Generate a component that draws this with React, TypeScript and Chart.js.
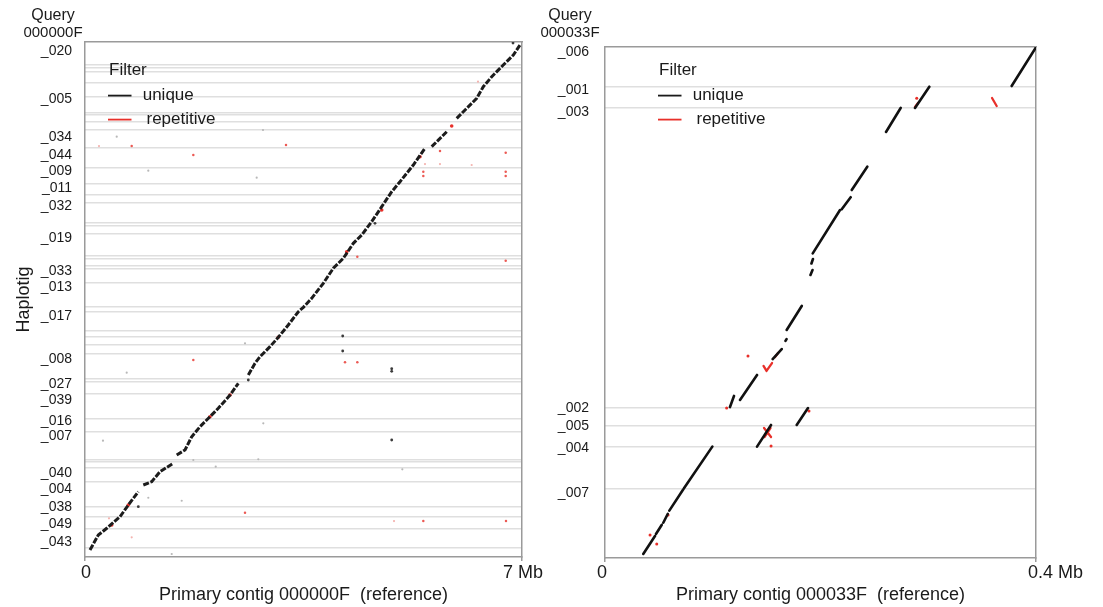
import React, { useEffect, useRef } from "react";
import { Chart, registerables } from "chart.js";

Chart.register(...registerables);

const FONT = "'Liberation Sans', Arial, Helvetica, sans-serif";
Chart.defaults.font.family = FONT;
Chart.defaults.color = "#1a1a1a";

// ---------------- Left panel: query 000000F vs primary contig 000000F ----------------
const LEFT_X_TICKS = [0, 7];
const LEFT_X_LABELS = ["0", "7 Mb"];
const LEFT_Y_LABELS = ["_020", "_005", "_034", "_044", "_009", "_011", "_032", "_019", "_033", "_013", "_017", "_008", "_027", "_039", "_016", "_007", "_040", "_004", "_038", "_049", "_043"];
const LEFT_Y_TICKS = [6.903, 6.252, 5.729, 5.491, 5.273, 5.037, 4.787, 4.354, 3.9, 3.681, 3.29, 2.707, 2.357, 2.143, 1.856, 1.652, 1.151, 0.924, 0.687, 0.446, 0.205];
const LEFT_BOUNDARIES = [6.716, 6.682, 6.627, 6.47, 6.279, 6.067, 6.033, 5.945, 5.829, 5.59, 5.31, 5.098, 4.948, 4.832, 4.559, 4.525, 4.409, 4.115, 4.068, 3.972, 3.931, 3.74, 3.413, 3.344, 3.092, 3.003, 2.894, 2.771, 2.43, 2.389, 2.232, 1.884, 1.706, 1.331, 1.304, 1.215, 1.024, 0.689, 0.546, 0.389, 0.13];
const LEFT_Y_MAX = 7.03;

// main unique alignment chain (Mb ref, Mb query); null = break
const leftMainTrace: (number[] | null)[] = [
  [0.08, 0.096], [0.213, 0.3], [0.348, 0.392], [0.561, 0.55], [0.694, 0.71], [0.854, 0.891], null,
  [0.934, 0.983], [1.068, 1.028], [1.201, 1.164], [1.414, 1.279], null,
  [1.469, 1.392], [1.602, 1.461], [1.709, 1.642], [1.842, 1.779], [2.002, 1.915], [2.135, 2.03], [2.323, 2.211], [2.456, 2.371], null,
  [2.616, 2.484], [2.723, 2.644], [2.803, 2.734], [2.963, 2.871], [3.096, 2.999], [3.256, 3.167], [3.417, 3.348], [3.497, 3.408],
  [3.631, 3.531], [3.817, 3.736], [3.977, 3.941], [4.138, 4.077], [4.298, 4.282], [4.432, 4.395], [4.592, 4.577], [4.753, 4.782],
  [4.913, 4.986], [5.046, 5.123], [5.259, 5.351], [5.446, 5.579], null,
  [5.553, 5.601], [5.714, 5.737], [5.794, 5.805], null,
  [5.954, 5.988], [6.114, 6.125], [6.274, 6.261], [6.38, 6.42], [6.515, 6.556], [6.7, 6.716], [6.861, 6.852], [6.968, 6.989],
];
const leftUniqueDots = [[0.854, 0.687], [2.616, 2.416], [4.645, 4.555], [6.856, 7.016], [4.128, 3.017], [4.128, 2.812], [4.913, 2.535], [4.913, 2.57], [4.913, 1.597]];
const leftUniqueFaint = [[1.014, 5.273], [5.083, 1.197], [2.563, 2.917], [1.735, 1.324], [2.094, 1.233], [2.776, 1.334], [1.014, 0.809], [1.389, 0.041], [0.508, 5.737], [2.851, 5.829], [2.75, 5.178], [1.549, 0.768], [2.856, 1.825], [0.668, 2.516], [0.288, 1.588]];
const leftRepOnDiagonal = [[2.323, 2.211], [2.002, 1.915], [3.096, 2.999], [0.428, 0.437], [0.694, 0.71], [4.192, 4.167], [4.753, 4.737], [5.366, 5.464], [5.874, 5.883]];
const leftRepDots = [[0.748, 5.61], [1.735, 5.487], [3.22, 5.624], [4.362, 4.099], [5.419, 5.259], [5.419, 5.201], [6.739, 5.259], [6.739, 5.201], [6.739, 5.519], [5.686, 5.542], [6.739, 4.045], [4.165, 2.658], [4.362, 2.658], [5.419, 0.491], [6.744, 0.491], [1.735, 2.689], [2.563, 0.605]];
const leftRepFaint = [[0.224, 5.61], [5.446, 5.364], [5.686, 5.364], [6.194, 5.351], [6.295, 6.488], [4.95, 0.491], [0.748, 0.269], [0.384, 0.528]];

// ---------------- Right panel: query 000033F vs primary contig 000033F ----------------
const RIGHT_X_TICKS = [0, 0.4];
const RIGHT_X_LABELS = ["0", "0.4 Mb"];
const RIGHT_Y_LABELS = ["_006", "_001", "_003", "_002", "_005", "_004", "_007"];
const RIGHT_Y_TICKS = [0.3646, 0.337, 0.3214, 0.1078, 0.0946, 0.0794, 0.0466];
const RIGHT_BOUNDARIES = [0.3392, 0.3241, 0.108, 0.0954, 0.0803, 0.0497];
const RIGHT_Y_MAX = 0.368;

// segments [refStart, qStart, refEnd, qEnd] in Mb
const rightUniqueSegments = [
  [0.0355, 0.0029, 0.0464, 0.0158],
  [0.0473, 0.0173, 0.0526, 0.0238],
  [0.0541, 0.0254, 0.0582, 0.0317],
  [0.0597, 0.0341, 0.0727, 0.0495],
  [0.0733, 0.0502, 0.0996, 0.0802],
  [0.116, 0.1087, 0.1197, 0.1167],
  [0.1253, 0.1138, 0.1411, 0.1318],
  [0.1556, 0.1433, 0.164, 0.1505],
  [0.1675, 0.1563, 0.1685, 0.1577],
  [0.1686, 0.1642, 0.1826, 0.1815],
  [0.1907, 0.2038, 0.1926, 0.2074],
  [0.1916, 0.2121, 0.193, 0.2153],
  [0.1928, 0.2194, 0.2181, 0.2506],
  [0.2197, 0.2511, 0.228, 0.2598],
  [0.229, 0.265, 0.2434, 0.2818],
  [0.2608, 0.3068, 0.2744, 0.3241],
  [0.2877, 0.3241, 0.301, 0.3394],
  [0.3774, 0.3399, 0.4, 0.3678],
  [0.1779, 0.0958, 0.1884, 0.108],
  [0.1411, 0.0802, 0.1541, 0.0958],
];
const rightRepSegments = [
  [0.3592, 0.3313, 0.3635, 0.3255],
  [0.2877, 0.3248, 0.2905, 0.3277],
  [0.1471, 0.1383, 0.1499, 0.1347],
  [0.1499, 0.1347, 0.155, 0.1404],
  [0.1578, 0.1448, 0.1606, 0.1476],
  [0.1476, 0.0936, 0.1541, 0.0871],
  [0.148, 0.0871, 0.1536, 0.0936],
];
const rightRepDots = [[0.2893, 0.3311], [0.1327, 0.1455], [0.1541, 0.0807], [0.1129, 0.108], [0.1893, 0.1059], [0.0585, 0.031], [0.0418, 0.0166], [0.048, 0.0101]];

const LEGEND_ITEMS = [
  { text: "unique", color: "#1a1a1a", dx: 33.7 },
  { text: "repetitive", color: "#e8302a", dx: 37.5 },
];

// ---------------- helpers ----------------
type Pt = { x: number; y: number | null };

function tracePoints(trace: (number[] | null)[]): Pt[] {
  const out: Pt[] = [];
  trace.forEach((p, i) => {
    if (p === null) {
      const prev = trace[i - 1];
      out.push({ x: prev ? prev[0] : 0, y: null });
    } else out.push({ x: p[0], y: p[1] });
  });
  return out;
}
function segmentPoints(segs: number[][]): Pt[] {
  const out: Pt[] = [];
  segs.forEach((s) => {
    out.push({ x: s[0], y: s[1] }, { x: s[2], y: s[3] }, { x: s[2], y: null });
  });
  return out;
}
function dots(list: number[][]): Pt[] {
  return list.map((p) => ({ x: p[0], y: p[1] }));
}

const FRAME = "#9a9a9a";
const GRID = "#dfdfdf";
const RED = "#e8302a";

const overlayPlugin = {
  id: "overlay",
  afterDraw(chart: any, _args: any, opts: any) {
    const { ctx, chartArea } = chart;
    ctx.save();
    ctx.fillStyle = "#1a1a1a";
    ctx.textBaseline = "middle";
    ctx.textAlign = "center";
    ctx.font = `16px ${FONT}`;
    ctx.fillText("Query", opts.queryX, 16);
    ctx.font = `15px ${FONT}`;
    ctx.fillText(opts.contig, opts.queryX, 33);
    const lx = chartArea.left + opts.legendDx;
    const ly = chartArea.top + opts.legendDy;
    ctx.textAlign = "left";
    ctx.font = `17px ${FONT}`;
    ctx.fillText("Filter", lx, ly);
    LEGEND_ITEMS.forEach((it, i) => {
      const y = ly + 25.6 + i * 24;
      ctx.strokeStyle = it.color;
      ctx.lineWidth = 1.8;
      ctx.beginPath();
      ctx.moveTo(lx - 1, y);
      ctx.lineTo(lx + 22.5, y);
      ctx.stroke();
      ctx.fillText(it.text, lx + it.dx, y);
    });
    ctx.restore();
  },
};

function buildConfig(p: {
  xMax: number; yMax: number; xTicks: number[]; xLabels: string[]; yTicks: number[]; yLabels: string[];
  boundaries: number[]; datasets: any[]; xTitle: string; yTitle: string | null; padding: any;
  yWidth: number; xHeight: number; yTickPad: number; xAlign: string; xLabelOffset: number; xTickPad: number;
  overlay: any;
}): any {
  const frameAxis = { display: true, color: FRAME, width: 1.5 };
  return {
    type: "scatter",
    data: { datasets: p.datasets },
    plugins: [overlayPlugin],
    options: {
      responsive: false,
      animation: false,
      events: [],
      layout: { padding: p.padding },
      plugins: { legend: { display: false }, tooltip: { enabled: false }, overlay: p.overlay },
      scales: {
        x: {
          type: "linear", position: "bottom", min: 0, max: p.xMax,
          afterBuildTicks: (s: any) => { s.ticks = p.xTicks.map((v) => ({ value: v })); },
          ticks: {
            callback: (_v: any, i: number) => p.xLabels[i], font: { size: 18 }, color: "#1a1a1a",
            padding: p.xTickPad, maxRotation: 0, autoSkip: false, align: p.xAlign, labelOffset: p.xLabelOffset,
          },
          grid: { display: true, drawOnChartArea: false, drawTicks: true, tickLength: 4, color: FRAME, lineWidth: 1.5 },
          border: frameAxis,
          title: { display: true, text: p.xTitle, font: { size: 18 }, color: "#1a1a1a", padding: { top: 0, bottom: 1 } },
          afterFit: (s: any) => { s.height = p.xHeight; },
        },
        y: {
          type: "linear", position: "left", min: 0, max: p.yMax,
          afterBuildTicks: (s: any) => { s.ticks = p.yTicks.map((v) => ({ value: v })); },
          ticks: { callback: (_v: any, i: number) => p.yLabels[i], font: { size: 14 }, color: "#1a1a1a", padding: p.yTickPad, autoSkip: false },
          grid: { display: false },
          border: frameAxis,
          title: p.yTitle
            ? { display: true, text: p.yTitle, font: { size: 18 }, color: "#1a1a1a", padding: { top: 13, bottom: 0 } }
            : { display: false },
          afterFit: (s: any) => { s.width = p.yWidth; },
        },
        yGrid: {
          type: "linear", position: "left", min: 0, max: p.yMax,
          afterBuildTicks: (s: any) => { s.ticks = p.boundaries.map((v) => ({ value: v })); },
          ticks: { display: false },
          grid: { color: GRID, lineWidth: 1.6, drawTicks: false },
          border: { display: false },
          afterFit: (s: any) => { s.width = 0; },
        },
        x2: {
          type: "linear", position: "top", min: 0, max: p.xMax,
          ticks: { display: false }, grid: { display: false }, border: frameAxis,
          afterFit: (s: any) => { s.height = 0; },
        },
        y2: {
          type: "linear", position: "right", min: 0, max: p.yMax,
          ticks: { display: false }, grid: { display: false }, border: frameAxis,
          afterFit: (s: any) => { s.width = 0; },
        },
      },
    },
  };
}

function leftConfig() {
  const datasets = [
    { label: "unique", data: tracePoints(leftMainTrace), showLine: true, borderColor: "#1c1c1c", borderWidth: 3, borderDash: [6, 1.6], pointRadius: 0, spanGaps: false },
    { label: "unique faint", data: dots(leftUniqueFaint), showLine: false, pointRadius: 1.1, backgroundColor: "#b8b8b8", borderWidth: 0 },
    { label: "unique dots", data: dots(leftUniqueDots), showLine: false, pointRadius: 1.4, backgroundColor: "#3a3a3a", borderWidth: 0 },
    { label: "repetitive diag", data: dots(leftRepOnDiagonal), showLine: false, pointRadius: 1.8, backgroundColor: RED, borderWidth: 0 },
    { label: "repetitive faint", data: dots(leftRepFaint), showLine: false, pointRadius: 1.1, backgroundColor: "#f4b3af", borderWidth: 0 },
    { label: "repetitive", data: dots(leftRepDots), showLine: false, pointRadius: 1.25, backgroundColor: "#ec5a54", borderWidth: 0 },
  ];
  return buildConfig({
    xMax: 7, yMax: LEFT_Y_MAX, xTicks: LEFT_X_TICKS, xLabels: LEFT_X_LABELS, yTicks: LEFT_Y_TICKS, yLabels: LEFT_Y_LABELS,
    boundaries: LEFT_BOUNDARIES, datasets, xTitle: "Primary contig 000000F  (reference)", yTitle: "Haplotig",
    padding: { left: 0, top: 42, right: 30, bottom: 0 }, yWidth: 85, xHeight: 50, yTickPad: 5,
    xAlign: "center", xLabelOffset: 1, xTickPad: 1,
    overlay: { queryX: 53, contig: "000000F", legendDx: 24, legendDy: 28 },
  });
}

function rightConfig() {
  const datasets = [
    { label: "unique", data: segmentPoints(rightUniqueSegments), showLine: true, borderColor: "#111", borderWidth: 2.6, borderCapStyle: "round", pointRadius: 0, spanGaps: false },
    { label: "repetitive", data: segmentPoints(rightRepSegments), showLine: true, borderColor: RED, borderWidth: 2.3, borderCapStyle: "round", pointRadius: 0, spanGaps: false },
    { label: "repetitive dots", data: dots(rightRepDots), showLine: false, pointRadius: 1.5, backgroundColor: RED, borderWidth: 0 },
  ];
  return buildConfig({
    xMax: 0.4, yMax: RIGHT_Y_MAX, xTicks: RIGHT_X_TICKS, xLabels: RIGHT_X_LABELS, yTicks: RIGHT_Y_TICKS, yLabels: RIGHT_Y_LABELS,
    boundaries: RIGHT_BOUNDARIES, datasets, xTitle: "Primary contig 000033F  (reference)", yTitle: null,
    padding: { left: 0, top: 47, right: 67, bottom: 0 }, yWidth: 67, xHeight: 49, yTickPad: 8,
    xAlign: "start", xLabelOffset: -8, xTickPad: 0.5,
    overlay: { queryX: 32, contig: "000033F", legendDx: 54, legendDy: 23 },
  });
}

function Panel({ make, left, width }: { make: () => any; left: number; width: number }) {
  const ref = useRef<HTMLCanvasElement>(null);
  useEffect(() => {
    const chart = new Chart(ref.current as HTMLCanvasElement, make());
    return () => chart.destroy();
  }, []);
  return (
    <canvas
      ref={ref}
      width={width}
      height={607}
      style={{ position: "absolute", left, top: 0, width, height: 607 }}
    />
  );
}

export default function App() {
  return (
    <div style={{ position: "fixed", left: 0, top: 0, width: 1103, height: 607, background: "#fff", overflow: "hidden" }}>
      <Panel make={leftConfig} left={0} width={552} />
      <Panel make={rightConfig} left={538} width={565} />
    </div>
  );
}
